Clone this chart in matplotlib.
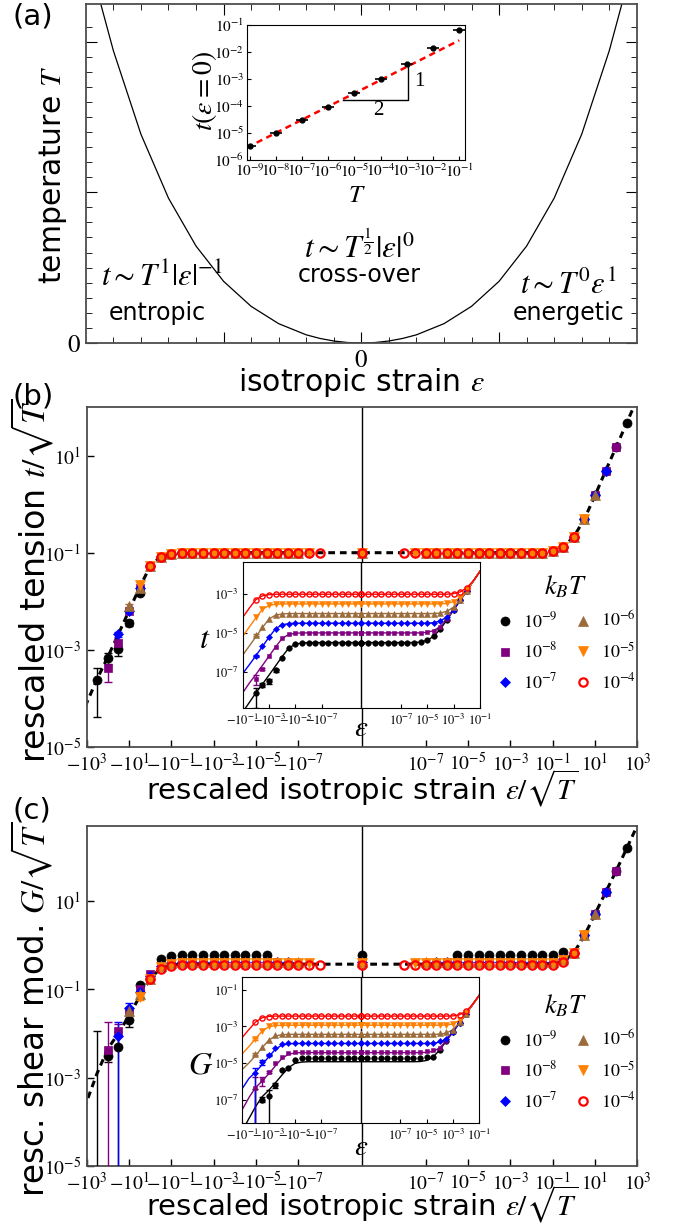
import numpy as np
import matplotlib
matplotlib.use('Agg')
import matplotlib.pyplot as plt

plt.rcParams['font.family'] = ['DejaVu Sans']
plt.rcParams['mathtext.fontset'] = 'stix'

# ---------------- data ----------------
# (a) schematic cross-over boundary, |strain| vs temperature
boundary_eps = [0.0, 0.05, 0.1, 0.15, 0.2, 0.3, 0.4, 0.5, 0.6, 0.7, 0.8, 0.9, 0.96]
boundary_T = [0.0, 0.003, 0.013, 0.030, 0.054, 0.128, 0.243, 0.409, 0.643, 0.961, 1.385, 1.939, 2.345]

# (a) inset: tension at zero strain
zero_T = [1e-9, 1e-8, 1e-7, 1e-6, 1e-5, 1e-4, 1e-3, 1e-2, 1e-1]
zero_t = [3.2e-6, 9.8e-6, 3.0e-5, 9.5e-5, 3.1e-4, 1.0e-3, 3.6e-3, 1.4e-2, 6.3e-2]
fit_T = [8e-10, 1e-1]
fit_t = [2.9e-6, 2.7e-2]
slope_T = [3.8e-6, 1.15e-3, 1.15e-3]
slope_t = [1.66e-4, 1.66e-4, 3.6e-3]

# temperatures of the simulations
kT = [1e-9, 1e-8, 1e-7, 1e-6, 1e-5, 1e-4]
kT_labels = [r'$10^{-9}$', r'$10^{-8}$', r'$10^{-7}$', r'$10^{-6}$', r'$10^{-5}$', r'$10^{-4}$']
colors = ['#000000', '#800080', '#0000ff', '#9c6b3b', '#ff8000', '#ff0000']
markers = ['o', 's', 'D', '^', 'v', 'o']
msizes = [6.5, 5.5, 5.0, 6.5, 6.5, 6.0]

# |strain| = 10**eps_exp (both signs, plus zero)
eps_exp = [-10.0, -9.5, -9.0, -8.5, -8.0, -7.5, -7.0, -6.5, -6.0, -5.5, -5.0, -4.5,
           -4.0, -3.5, -3.0, -2.5, -2.0]

# master curves: log10 of rescaled value at |eps/sqrt(T)| = 10**(u-10)
u_grid = [0.0, 0.5, 1.0, 1.5, 2.0, 2.5, 3.0, 3.5, 4.0, 4.5, 5.0, 5.5, 6.0, 6.5,
          7.0, 7.5, 8.0, 8.5, 9.0, 9.5, 10.0, 10.5, 11.0, 11.5, 12.0, 12.5, 13.0, 13.5]
tension_neg = [-1.00, -1.00, -1.00, -1.00, -1.00, -1.00, -1.00, -1.00, -1.00, -1.00,
               -1.00, -1.00, -1.00, -1.00, -1.00, -1.00, -1.00, -1.00, -1.02, -1.08,
               -1.28, -1.72, -2.20, -2.68, -3.15, -3.60, -4.10, -4.60]
tension_pos = [-1.00, -1.00, -1.00, -1.00, -1.00, -1.00, -1.00, -1.00, -1.00, -1.00,
               -1.00, -1.00, -1.00, -1.00, -1.00, -1.00, -1.00, -1.00, -0.97, -0.88,
               -0.67, -0.30, 0.18, 0.69, 1.18, 1.68, 2.18, 2.68]
shear_neg = [-0.43, -0.43, -0.43, -0.43, -0.43, -0.43, -0.43, -0.43, -0.43, -0.43,
             -0.43, -0.43, -0.43, -0.43, -0.43, -0.43, -0.43, -0.43, -0.45, -0.52,
             -0.76, -1.17, -1.60, -2.00, -2.35, -2.90, -3.55, -4.20]
shear_pos = [-0.43, -0.43, -0.43, -0.43, -0.43, -0.43, -0.43, -0.43, -0.43, -0.43,
             -0.43, -0.43, -0.43, -0.43, -0.43, -0.43, -0.43, -0.43, -0.42, -0.36,
             -0.17, 0.22, 0.71, 1.20, 1.69, 2.20, 2.72, 3.22]

# per temperature: plateau shift (log10) and deviations / relative errors
# of the five most negative strains (outermost first)
tension_shift = [0.0, 0.0, 0.0, 0.0, 0.0, 0.0]
tension_dev = [[-0.03, -0.02, -0.30, -0.24, -0.10],
               [-0.22, -0.17, 0.0, 0.0, 0.0],
               [0.0, 0.0, 0.0, 0.0, 0.0],
               [0.10, 0.0, 0.0, 0.0, 0.0],
               [0.06, 0.0, 0.0, 0.0, 0.0],
               [0.0, 0.0, 0.0, 0.0, 0.0]]
tension_err = [[0.82, 0.25, 0.30, 0.15, 0.0],
               [0.50, 0.15, 0.0, 0.0, 0.0],
               [0.10, 0.0, 0.0, 0.0, 0.0],
               [0.10, 0.0, 0.0, 0.0, 0.0],
               [0.0, 0.0, 0.0, 0.0, 0.0],
               [0.0, 0.0, 0.0, 0.0, 0.0]]
shear_shift = [0.20, 0.05, 0.04, 0.04, 0.02, -0.02]
shear_dev = [[-3.10, -0.15, -0.30, -0.10, 0.26],
             [-0.03, 0.05, 0.10, 0.17, 0.11],
             [-0.06, 0.17, 0.12, 0.06, 0.0],
             [0.10, 0.07, 0.0, 0.0, 0.0],
             [0.0, 0.0, 0.0, 0.0, 0.0],
             [0.0, 0.0, 0.0, 0.0, 0.0]]
shear_err = [[11500.0, 0.30, 1.20, 0.30, 0.0],
             [3.30, 0.50, 0.10, 0.0, 0.0],
             [1.05, 0.30, 0.10, 0.0, 0.0],
             [0.15, 0.0, 0.0, 0.0, 0.0],
             [0.15, 0.0, 0.0, 0.0, 0.0],
             [0.0, 0.0, 0.0, 0.0, 0.0]]

main_xticks = [-1e3, -1e1, -1e-1, -1e-3, -1e-5, -1e-7, 1e-7, 1e-5, 1e-3, 1e-1, 1e1, 1e3]
main_xlabels = [r'$-10^{3}$', r'$-10^{1}$', r'$-10^{-1}$', r'$-10^{-3}$', r'$-10^{-5}$',
                r'$-10^{-7}$', r'$10^{-7}$', r'$10^{-5}$', r'$10^{-3}$', r'$10^{-1}$',
                r'$10^{1}$', r'$10^{3}$']
inset_xticks = [-1e-1, -1e-3, -1e-5, -1e-7, 1e-7, 1e-5, 1e-3, 1e-1]
inset_xlabels = [r'$-10^{-1}$', r'$-10^{-3}$', r'$-10^{-5}$', r'$-10^{-7}$',
                 r'$10^{-7}$', r'$10^{-5}$', r'$10^{-3}$', r'$10^{-1}$']


def fwd(x):
    # signed log axis: 1e-10 sits at the origin
    x = np.asarray(x, dtype=float)
    with np.errstate(divide='ignore', invalid='ignore'):
        m = np.log10(np.abs(x)) + 10
    m = np.where(np.isfinite(m), np.clip(m, 0, None), 0.0)
    return np.sign(x) * m


def inv(y):
    y = np.asarray(y, dtype=float)
    return np.sign(y) * 10 ** (np.abs(y) - 10)


def seriesData(T, neg, pos, shift, dev, err):
    rt = np.sqrt(T)
    half = 0.5 * np.log10(T)
    xs, ys, rs = [], [], []
    for j, k in enumerate(eps_exp[::-1]):
        u = k + 10 - half
        lv = neg[int(round(2 * u))] + (shift if u <= 9.5 else 0.0)
        r = 0.0
        if j < len(dev):
            lv += dev[j]
            r = err[j]
        xs.append(-10 ** k / rt)
        ys.append(10 ** lv)
        rs.append(r)
    xs.append(0.0)
    ys.append(10 ** (neg[0] + shift))
    rs.append(0.0)
    for k in eps_exp:
        u = k + 10 - half
        lv = pos[int(round(2 * u))] + (shift if u <= 9.5 else 0.0)
        xs.append(10 ** k / rt)
        ys.append(10 ** lv)
        rs.append(0.0)
    return np.array(xs), np.array(ys), np.array(rs)


def drawErrors(ax, x, y, r, color, cap):
    keep = r > 0
    if not keep.any():
        return
    x, y, r = x[keep], y[keep], r[keep]
    lo = np.where(r >= 1, y - 1e-15, y * r)
    ax.errorbar(x, y, yerr=[lo, y * r], fmt='none', ecolor=color,
                elinewidth=1, capsize=cap, zorder=4)


def axLabel(ax, x, y, text, size, rotation=0):
    ax.text(x, y, text, transform=ax.transAxes, fontsize=size, rotation=rotation,
            ha='center', va='center')


def drawPanelA(fig):
    ax = fig.add_axes([0.127, 0.7198, 0.815, 0.277])
    bx = [-e for e in boundary_eps[::-1]] + boundary_eps
    bT = boundary_T[::-1] + boundary_T
    ax.plot(bx, bT, color='black', lw=0.9)
    ax.set_xlim(-1, 1)
    ax.set_ylim(0, 2.25)
    ax.set_xticks([-0.5, 0, 0.5], labels=['', r'$0$', ''])
    ax.set_xticks(np.arange(-0.9, 0.95, 0.1), minor=True)
    ax.set_yticks([0, 1, 2], labels=[r'$0$', '', ''])
    ax.set_yticks(np.arange(0.1, 2.2, 0.1), minor=True)
    ax.tick_params(which='both', direction='in', top=True, right=True, labelsize=18)
    ax.tick_params(which='major', length=8)
    ax.tick_params(which='minor', length=4)
    for s in ax.spines.values():
        s.set_color('#4d4d4d')
        s.set_linewidth(1.3)
    axLabel(ax, 0.5, -0.118, r'isotropic strain $\varepsilon$', 21.5)
    axLabel(ax, -0.06, 0.497, r'temperature $T$', 21.5, rotation=90)

    axLabel(ax, 0.138, 0.195, r'$t\sim T^{1}|\varepsilon|^{-1}$', 22)
    axLabel(ax, 0.13, 0.088, 'entropic', 17)
    axLabel(ax, 0.496, 0.283, r'$t\sim T^{\frac{1}{2}}|\varepsilon|^{0}$', 22.5)
    axLabel(ax, 0.496, 0.2, 'cross-over', 17)
    axLabel(ax, 0.875, 0.171, r'$t\sim T^{0}\varepsilon^{1}$', 22)
    axLabel(ax, 0.876, 0.088, 'energetic', 17)

    # inset: zero-strain tension
    ins = fig.add_axes([0.3654, 0.8693, 0.3225, 0.1103])
    ins.set_xscale('log')
    ins.set_yscale('log')
    ins.plot(fit_T, fit_t, color='red', lw=1.8, ls=(0, (2.5, 1.8)), zorder=2)
    ins.plot(slope_T, slope_t, color='black', lw=1.0, zorder=1)
    ins.plot(zero_T, zero_t, ls='none', marker='_', ms=9, mew=1.2, color='black', zorder=3)
    ins.plot(zero_T, zero_t, ls='none', marker='o', ms=3.5, color='black', zorder=3)
    ins.text(2.9e-3, 8e-4, '1', fontsize=15, family='Liberation Serif', ha='center', va='center')
    ins.text(8e-5, 7e-5, '2', fontsize=15, family='Liberation Serif', ha='center', va='center')
    ins.set_xlim(10 ** -9.1, 10 ** -0.78)
    ins.set_ylim(1e-6, 1e-1)
    ins.set_xticks([10.0 ** p for p in range(-9, 0)],
                   labels=[r'$10^{%d}$' % p for p in range(-9, 0)])
    ins.set_yticks([10.0 ** p for p in range(-6, 0)],
                   labels=[r'$10^{%d}$' % p for p in range(-6, 0)])
    ins.minorticks_off()
    ins.tick_params(direction='in', length=3, labelsize=11, pad=2)
    axLabel(ins, 0.503, -0.26, r'$T$', 18)
    axLabel(ins, -0.197, 0.51, r'$t(\varepsilon=0)$', 20, rotation=90)


def drawCollapse(fig, rect, inset_rect, neg, pos, shifts, devs, errs, ylim, yticks,
                 ylabel, ylabel_y, ylabel_size, inset_ylim, inset_yticks, inset_ylabel,
                 inset_ylabel_pos, inset_xlabel_y, xlabel_y):
    ax = fig.add_axes(rect)
    ax.set_xscale('function', functions=(fwd, inv))
    ax.set_yscale('log')
    ins = fig.add_axes(inset_rect)
    ins.set_xscale('function', functions=(fwd, inv))
    ins.set_yscale('log')

    u = np.array(u_grid)
    mx = np.concatenate([-10 ** (u[::-1] - 10), 10 ** (u - 10)])
    my = 10 ** np.concatenate([np.array(neg)[::-1], np.array(pos)])
    ax.plot(mx, my, color='black', lw=2.2, ls=(0, (2.2, 1.6)), zorder=2)
    ax.axvline(0, color='black', lw=1.0, zorder=1)
    ins.axvline(0, color='black', lw=1.0, zorder=1)

    handles = []
    for i, T in enumerate(kT):
        rt = np.sqrt(T)
        x, y, r = seriesData(T, neg, pos, shifts[i], devs[i], errs[i])
        face = 'none' if i == 5 else colors[i]
        mew = 1.6 if i == 5 else 0.5
        h, = ax.plot(x, y, ls='none', marker=markers[i], ms=msizes[i], mfc=face,
                     mec=colors[i], mew=mew, zorder=5 + i)
        handles.append(h)
        drawErrors(ax, x, y, r, colors[i], 3)
        ins.plot(mx * rt, my * rt, color=colors[i], lw=1.0, zorder=2)
        ins.plot(x * rt, y * rt, ls='none', marker=markers[i], ms=msizes[i] * 0.62,
                 mfc=face, mec=colors[i], mew=1.0 if i == 5 else 0.4, zorder=5 + i)
        drawErrors(ins, x * rt, y * rt, r, colors[i], 2)

    ax.set_xlim(-1e3, 1e3)
    ax.set_ylim(*ylim)
    ax.set_xticks(main_xticks, labels=main_xlabels)
    ax.set_yticks(yticks, labels=[r'$10^{%d}$' % round(np.log10(v)) for v in yticks])
    ax.minorticks_off()
    ax.tick_params(direction='in', length=5, width=1, labelsize=14, pad=4)
    for s in ax.spines.values():
        s.set_color('#4d4d4d')
        s.set_linewidth(1.3)
    axLabel(ax, 0.5, xlabel_y, r'rescaled isotropic strain $\varepsilon/\sqrt{T}$', 21)
    axLabel(ax, -0.0975, ylabel_y, ylabel, ylabel_size, rotation=90)

    ax.legend(handles, kT_labels, ncol=2, title=r'$k_BT$', title_fontsize=19, fontsize=13,
              frameon=False, loc='center', bbox_to_anchor=(0.87, 0.335),
              handletextpad=0.5, columnspacing=0.9, labelspacing=0.6, handlelength=1.0)

    ins.set_xlim(-1e-1, 1e-1)
    ins.set_ylim(*inset_ylim)
    ins.set_xticks(inset_xticks, labels=inset_xlabels)
    ins.set_yticks(inset_yticks, labels=[r'$10^{%d}$' % round(np.log10(v)) for v in inset_yticks])
    ins.minorticks_off()
    ins.tick_params(direction='in', length=3, labelsize=9, pad=3)
    axLabel(ins, 0.5, inset_xlabel_y, r'$\varepsilon$', 21)
    axLabel(ins, inset_ylabel_pos[0], inset_ylabel_pos[1], inset_ylabel, 23)


def main():
    fig = plt.figure(figsize=(6.76, 12.24), dpi=100)
    drawPanelA(fig)
    drawCollapse(fig, [0.128, 0.3897, 0.815, 0.2778], [0.359, 0.4213, 0.351, 0.1193],
                 tension_neg, tension_pos, tension_shift, tension_dev, tension_err,
                 (1e-5, 1e2), [1e-5, 1e-3, 1e-1, 1e1],
                 r'rescaled tension $t/\sqrt{T}$', 0.488, 24,
                 (10 ** -8.9, 10 ** -1.35), [1e-7, 1e-5, 1e-3], r'$t$', (-0.159, 0.468), -0.135,
                 -0.12)
    drawCollapse(fig, [0.128, 0.0474, 0.815, 0.2778], [0.3584, 0.0823, 0.3506, 0.1198],
                 shear_neg, shear_pos, shear_shift, shear_dev, shear_err,
                 (1e-5, 10 ** 2.7), [1e-5, 1e-3, 1e-1, 1e1],
                 r'resc. shear mod. $G/\sqrt{T}$', 0.459, 23.5,
                 (10 ** -8.3, 10 ** -0.27), [1e-7, 1e-5, 1e-3, 1e-1], r'$G$', (-0.178, 0.40), -0.16,
                 -0.112)

    fig.text(0.018, 1 - 16 / 1224, '(a)', fontsize=21, va='center')
    fig.text(0.018, 1 - 396 / 1224, '(b)', fontsize=21, va='center')
    fig.text(0.018, 1 - 811 / 1224, '(c)', fontsize=21, va='center')
    fig.savefig('out.png', dpi=100)


if __name__ == '__main__':
    main()
